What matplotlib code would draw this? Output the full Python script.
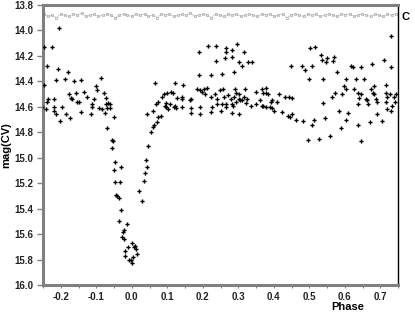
import matplotlib
matplotlib.use("Agg")
import matplotlib.pyplot as plt
from matplotlib.ticker import MultipleLocator, FixedLocator

# CV light curve (phase, magnitude)
phase_cv = [
    -0.206, -0.248, -0.225, -0.239, -0.208, -0.180, -0.248, -0.214, -0.189, -0.163,
    -0.144, -0.087, -0.101, -0.099, -0.177, -0.158, -0.135, -0.127, -0.172, -0.169,
    -0.155, -0.149, -0.237, -0.220, -0.107, -0.079, -0.073, -0.068, -0.093, -0.085,
    -0.070, -0.253, -0.242, -0.239, -0.220, -0.220, -0.214, -0.203, -0.197, -0.186,
    -0.175, -0.144, -0.115, -0.113, -0.113, -0.076, -0.073, -0.062, -0.062, -0.051,
    -0.070, -0.056, -0.054, -0.056, -0.048, -0.051, -0.031, -0.048, -0.034, -0.045,
    -0.042, -0.037, -0.031, -0.037, -0.014, -0.023, -0.025, -0.028, -0.023, -0.020,
    -0.020, -0.011, 0.000, 0.006, 0.011, 0.003, -0.008, -0.003, 0.000, 0.014,
    0.008,
    0.028, 0.020, 0.034, 0.037, 0.042, 0.039, 0.045, 0.054, 0.059, 0.062,
    0.070, 0.073, 0.082, 0.042, 0.059, 0.068, 0.073, 0.096, 0.096, 0.101,
    0.107, 0.121, 0.141, 0.141, 0.166, 0.163, 0.192, 0.192, 0.223, 0.225,
    0.239, 0.251, 0.254, 0.265, 0.265, 0.282, 0.285, 0.282, 0.293, 0.301,
    0.304, 0.310, 0.321, 0.335, 0.349, 0.361, 0.366, 0.377, 0.065, 0.121,
    0.144, 0.099, 0.090, 0.085, 0.110, 0.115, 0.127, 0.141, 0.093, 0.118,
    0.124, 0.166, 0.166, 0.183, 0.192, 0.197, 0.203, 0.211, 0.206, 0.223,
    0.234, 0.239, 0.248, 0.256, 0.259, 0.270, 0.290, 0.293, 0.287, 0.279,
    0.301, 0.301, 0.315, 0.318, 0.324, 0.349, 0.366, 0.377, 0.189, 0.223,
    0.254, 0.287, 0.189, 0.214, 0.237, 0.265, 0.265, 0.282, 0.296, 0.315,
    0.237, 0.262, 0.282, 0.301, 0.310, 0.327, 0.338,
    0.369, 0.389, 0.392, 0.408, 0.400, 0.423, 0.439, 0.445, 0.451, 0.462,
    0.482, 0.507, 0.513, 0.496, 0.527, 0.538, 0.544, 0.558, 0.583, 0.589,
    0.603, 0.608, 0.637, 0.637, 0.645, 0.662, 0.665, 0.670, 0.690, 0.690,
    0.704, 0.715, 0.718, 0.730, 0.741, 0.501, 0.515, 0.532, 0.535, 0.546,
    0.549, 0.566, 0.569, 0.448, 0.479, 0.487, 0.507, 0.499, 0.538, 0.577,
    0.617, 0.623, 0.645, 0.676, 0.710, 0.730, 0.730, 0.603, 0.631, 0.654,
    0.597, 0.377, 0.369, 0.383, 0.394, 0.414, 0.431, 0.442, 0.451, 0.394,
    0.563, 0.572, 0.592, 0.603, 0.625, 0.637, 0.639, 0.645, 0.659, 0.673,
    0.679, 0.682, 0.682, 0.687, 0.715, 0.718, 0.727, 0.738, 0.732, 0.744,
    0.715,
]
mag_cv = [
    13.98, 14.13, 14.13, 14.28, 14.30, 14.33, 14.43, 14.39, 14.38, 14.40,
    14.39, 14.37, 14.44, 14.47, 14.50, 14.49, 14.48, 14.52, 14.53, 14.54,
    14.56, 14.56, 14.54, 14.54, 14.54, 14.49, 14.53, 14.57, 14.61, 14.62,
    14.61, 14.60, 14.62, 14.56, 14.60, 14.63, 14.66, 14.71, 14.60, 14.66,
    14.69, 14.64, 14.66, 14.58, 14.60, 14.65, 14.58, 14.58, 14.61, 14.68,
    14.77, 14.86, 14.87, 14.92, 15.03, 15.10, 15.07, 15.19, 15.19, 15.29,
    15.30, 15.32, 15.41, 15.50, 15.52, 15.57, 15.58, 15.62, 15.64, 15.73,
    15.77, 15.70, 15.67, 15.70, 15.72, 15.78, 15.80, 15.80, 15.83, 15.76,
    15.69,
    15.34, 15.26, 15.18, 15.12, 15.07, 15.02, 14.91, 14.80, 14.76, 14.74,
    14.72, 14.68, 14.67, 14.66, 14.63, 14.58, 14.56, 14.57, 14.60, 14.62,
    14.58, 14.59, 14.60, 14.54, 14.65, 14.55, 14.60, 14.66, 14.64, 14.60,
    14.58, 14.63, 14.58, 14.58, 14.60, 14.58, 14.59, 14.65, 14.56, 14.66,
    14.55, 14.55, 14.57, 14.59, 14.58, 14.55, 14.59, 14.60, 14.41, 14.41,
    14.43, 14.49, 14.50, 14.52, 14.48, 14.49, 14.53, 14.52, 14.59, 14.60,
    14.61, 14.54, 14.61, 14.46, 14.47, 14.48, 14.46, 14.45, 14.50, 14.52,
    14.50, 14.54, 14.47, 14.46, 14.52, 14.51, 14.46, 14.49, 14.52, 14.54,
    14.54, 14.50, 14.52, 14.46, 14.54, 14.48, 14.46, 14.49, 14.35, 14.35,
    14.34, 14.33, 14.17, 14.12, 14.12, 14.14, 14.17, 14.15, 14.11, 14.17,
    14.24, 14.22, 14.21, 14.25, 14.28, 14.25, 14.25,
    14.59, 14.60, 14.56, 14.56, 14.63, 14.64, 14.67, 14.68, 14.66, 14.70,
    14.71, 14.74, 14.70, 14.86, 14.85, 14.57, 14.69, 14.83, 14.63, 14.77,
    14.70, 14.65, 14.58, 14.74, 14.87, 14.55, 14.58, 14.72, 14.56, 14.66,
    14.71, 14.56, 14.62, 14.63, 14.56, 14.14, 14.13, 14.19, 14.23, 14.25,
    14.22, 14.24, 14.21, 14.28, 14.28, 14.31, 14.28, 14.38, 14.38, 14.33,
    14.28, 14.29, 14.29, 14.26, 14.23, 14.29, 14.04, 14.38, 14.38, 14.38,
    14.44, 14.45, 14.49, 14.50, 14.55, 14.50, 14.52, 14.52, 14.53, 14.61,
    14.52, 14.49, 14.50, 14.46, 14.46, 14.49, 14.53, 14.50, 14.54, 14.46,
    14.49, 14.50, 14.44, 14.54, 14.49, 14.52, 14.50, 14.52, 14.59, 14.50,
    14.43,
]

# Comparison star (C) points near the top
phase_c = [
    -0.248, -0.236, -0.224, -0.212, -0.200, -0.189, -0.177, -0.165, -0.153, -0.141,
    -0.130, -0.118, -0.106, -0.094, -0.082, -0.071, -0.059, -0.047, -0.035, -0.023,
    -0.012, 0.000, 0.012, 0.024, 0.036, 0.047, 0.059, 0.071, 0.083, 0.095,
    0.106, 0.118, 0.130, 0.142, 0.154, 0.165, 0.177, 0.189, 0.201, 0.213,
    0.224, 0.236, 0.248, 0.260, 0.272, 0.283, 0.295, 0.307, 0.319, 0.331,
    0.342, 0.354, 0.366, 0.378, 0.390, 0.401, 0.413, 0.425, 0.437, 0.449,
    0.460, 0.472, 0.484, 0.496, 0.508, 0.519, 0.531, 0.543, 0.555, 0.567,
    0.578, 0.590, 0.602, 0.614, 0.626, 0.637, 0.649, 0.661, 0.673, 0.685,
    0.696, 0.708, 0.720, 0.732, 0.744,
]
mag_c = [
    13.87, 13.89, 13.88, 13.90, 13.87, 13.88, 13.89, 13.87, 13.88, 13.86,
    13.89, 13.88, 13.87, 13.89, 13.88, 13.87, 13.88, 13.90, 13.88, 13.87,
    13.88, 13.89, 13.87, 13.88, 13.87, 13.89, 13.88, 13.90, 13.87, 13.88,
    13.87, 13.89, 13.88, 13.87, 13.88, 13.86, 13.89, 13.88, 13.87, 13.88,
    13.90, 13.87, 13.88, 13.89, 13.87, 13.88, 13.87, 13.89, 13.88, 13.87,
    13.88, 13.89, 13.87, 13.88, 13.87, 13.89, 13.88, 13.87, 13.90, 13.88,
    13.87, 13.88, 13.89, 13.87, 13.88, 13.87, 13.89, 13.88, 13.87, 13.88,
    13.89, 13.87, 13.88, 13.87, 13.89, 13.88, 13.87, 13.88, 13.89, 13.87,
    13.88, 13.89, 13.87, 13.88, 13.87,
]

x_ticks = [-0.2, -0.1, 0.0, 0.1, 0.2, 0.3, 0.4, 0.5, 0.6, 0.7]
y_ticks = [13.8, 14.0, 14.2, 14.4, 14.6, 14.8, 15.0, 15.2, 15.4, 15.6, 15.8, 16.0]

plt.rcParams['font.family'] = ['Liberation Sans', 'DejaVu Sans']

fig = plt.figure(figsize=(4.15, 3.15), dpi=100)
ax = fig.add_axes([43/415, 1-285/315, (398-43)/415, (285-5)/315])

ax.plot(phase_c, mag_c, color='#c0c0c0', lw=0.5, marker='s', ms=2.0,
        mfc='none', mec='#a8a8a8', mew=0.5, zorder=2, clip_on=False)
ax.plot(phase_cv, mag_cv, linestyle='none', marker='P', ms=3.0,
        color='black', mew=0, zorder=3)

ax.set_xlim(-0.25, 0.75)
ax.set_ylim(16.0, 13.8)

ax.xaxis.set_major_locator(FixedLocator(x_ticks))
ax.xaxis.set_minor_locator(MultipleLocator(0.05))
ax.set_xticklabels([f"{v:.1f}" for v in x_ticks])
ax.yaxis.set_major_locator(FixedLocator(y_ticks))
ax.set_yticklabels([f"{v:.1f}" for v in y_ticks])

for side in ['left', 'bottom', 'top']:
    ax.spines[side].set_color('#808080')
    ax.spines[side].set_linewidth(2.2)
ax.spines['right'].set_color('black')
ax.spines['right'].set_linewidth(1.0)

ax.tick_params(axis='y', direction='out', length=4, width=1, color='#808080',
               labelsize=7, pad=3)
ax.tick_params(axis='x', which='both', direction='out', length=2, width=0.8,
               color='#808080', labelsize=7, pad=3)
for lab in ax.get_xticklabels() + ax.get_yticklabels():
    lab.set_fontweight('bold')
    lab.set_color('#222222')

ax.set_ylabel('mag(CV)', fontsize=8, fontweight='bold', labelpad=2)
fig.text(348/415, 1-307/315, 'Phase', fontsize=8, fontweight='bold',
         ha='center', va='center')
fig.text(405/415, 1-17/315, 'C', fontsize=8, fontweight='bold',
         ha='center', va='center')

fig.savefig('out.png', dpi=100)
